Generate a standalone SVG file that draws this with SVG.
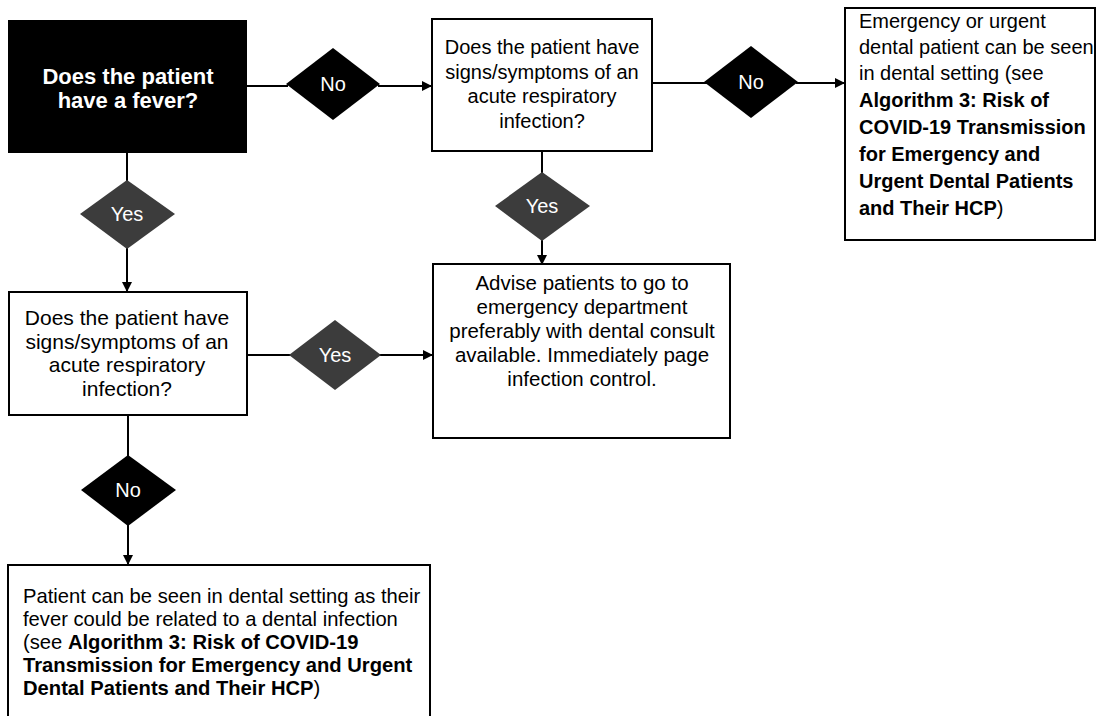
<svg xmlns="http://www.w3.org/2000/svg" width="1097" height="716" viewBox="0 0 1097 716">
<defs>
<style>
.box{fill:#fff;stroke:#000;stroke-width:2}
.start{fill:#000;stroke:#000;stroke-width:2}
.no{fill:#000}
.yes{fill:#3c3c3c}
.t{font-family:"Liberation Sans",Arial,sans-serif;font-size:20px;fill:#000}
.c{text-anchor:middle}
.b{font-weight:bold}
.w{fill:#fff}
.lbl{font-family:"Liberation Sans",Arial,sans-serif;font-size:20px;fill:#fff;text-anchor:middle}
.ln{fill:none;stroke:#000;stroke-width:2}
</style>
<marker id="ah" viewBox="0 0 10 10" refX="10" refY="5" markerWidth="5" markerHeight="5" orient="auto" markerUnits="strokeWidth">
<path d="M0,0 L10,5 L0,10 z" fill="#000"/>
</marker>
</defs>

<g id="connectors">
<line class="ln" x1="246" y1="86" x2="288" y2="86"/>
<line class="ln" x1="378" y1="86" x2="432" y2="86" marker-end="url(#ah)"/>
<line class="ln" x1="652" y1="83" x2="707" y2="83"/>
<line class="ln" x1="796" y1="83" x2="845" y2="83" marker-end="url(#ah)"/>
<line class="ln" x1="127" y1="152" x2="127" y2="182"/>
<line class="ln" x1="127" y1="247" x2="127" y2="292" marker-end="url(#ah)"/>
<line class="ln" x1="542" y1="151" x2="542" y2="174"/>
<line class="ln" x1="542" y1="240" x2="542" y2="265" marker-end="url(#ah)"/>
<line class="ln" x1="247" y1="355" x2="291" y2="355"/>
<line class="ln" x1="379" y1="355" x2="433" y2="355" marker-end="url(#ah)"/>
<line class="ln" x1="128" y1="415" x2="128" y2="457"/>
<line class="ln" x1="128" y1="524" x2="128" y2="565" marker-end="url(#ah)"/>
</g>

<g id="fever">
<rect class="start" x="9" y="21" width="237" height="131"/>
<text class="t c b w" x="128" y="84" style="font-size:22px">Does the patient</text>
<text class="t c b w" x="128" y="108" style="font-size:22px">have a fever?</text>
</g>

<g id="d-no1">
<polygon class="no" points="333,48 380,84 333,120 286,84"/>
<text class="lbl" x="333" y="91">No</text>
</g>

<g id="resp1">
<rect class="box" x="432" y="19" width="220" height="132"/>
<text class="t c" x="542" y="54">Does the patient have</text>
<text class="t c" x="542" y="79">signs/symptoms of an</text>
<text class="t c" x="542" y="103">acute respiratory</text>
<text class="t c" x="542" y="128">infection?</text>
</g>

<g id="d-no2">
<polygon class="no" points="751,46 798,82 751,118 704,82"/>
<text class="lbl" x="751" y="89">No</text>
</g>

<g id="seen1">
<rect class="box" x="845" y="8" width="250" height="232"/>
<text class="t" x="859" y="28">Emergency or urgent</text>
<text class="t" x="859" y="54">dental patient can be seen</text>
<text class="t" x="859" y="80">in dental setting (see</text>
<text class="t b" x="859" y="107">Algorithm 3: Risk of</text>
<text class="t b" x="859" y="134">COVID-19 Transmission</text>
<text class="t b" x="859" y="161">for Emergency and</text>
<text class="t b" x="859" y="188">Urgent Dental Patients</text>
<text class="t" x="859" y="215"><tspan class="b">and Their HCP</tspan>)</text>
</g>

<g id="d-yes1">
<polygon class="yes" points="127,180 175,214 127,249 80,214"/>
<text class="lbl" x="127" y="221">Yes</text>
</g>

<g id="d-yes2">
<polygon class="yes" points="542,172 590,206 542,241 495,206"/>
<text class="lbl" x="542" y="213">Yes</text>
</g>

<g id="resp2">
<rect class="box" x="9" y="292" width="238" height="123"/>
<text class="t c" x="127" y="325" style="font-size:21px">Does the patient have</text>
<text class="t c" x="127" y="349" style="font-size:21px">signs/symptoms of an</text>
<text class="t c" x="127" y="372" style="font-size:21px">acute respiratory</text>
<text class="t c" x="127" y="396" style="font-size:21px">infection?</text>
</g>

<g id="d-yes3">
<polygon class="yes" points="335,320 381,355 335,390 289,355"/>
<text class="lbl" x="335" y="362">Yes</text>
</g>

<g id="advise">
<rect class="box" x="433" y="264" width="297" height="174"/>
<text class="t c" x="582" y="290" style="font-size:20.5px">Advise patients to go to</text>
<text class="t c" x="582" y="314" style="font-size:20.5px">emergency department</text>
<text class="t c" x="582" y="338" style="font-size:20.5px">preferably with dental consult</text>
<text class="t c" x="582" y="362" style="font-size:20.5px">available. Immediately page</text>
<text class="t c" x="582" y="386" style="font-size:20.5px">infection control.</text>
</g>

<g id="d-no3">
<polygon class="no" points="128,455 176,490 128,526 81,490"/>
<text class="lbl" x="128" y="497">No</text>
</g>

<g id="seen2">
<rect class="box" x="8" y="565" width="422" height="160"/>
<text class="t" x="23" y="603" style="font-size:20.2px">Patient can be seen in dental setting as their</text>
<text class="t" x="23" y="626" style="font-size:20.2px">fever could be related to a dental infection</text>
<text class="t" x="23" y="649" style="font-size:20.2px">(see <tspan class="b">Algorithm 3: Risk of COVID-19</tspan></text>
<text class="t b" x="23" y="672" style="font-size:20.2px">Transmission for Emergency and Urgent</text>
<text class="t" x="23" y="695" style="font-size:20.2px"><tspan class="b">Dental Patients and Their HCP</tspan>)</text>
</g>
</svg>
